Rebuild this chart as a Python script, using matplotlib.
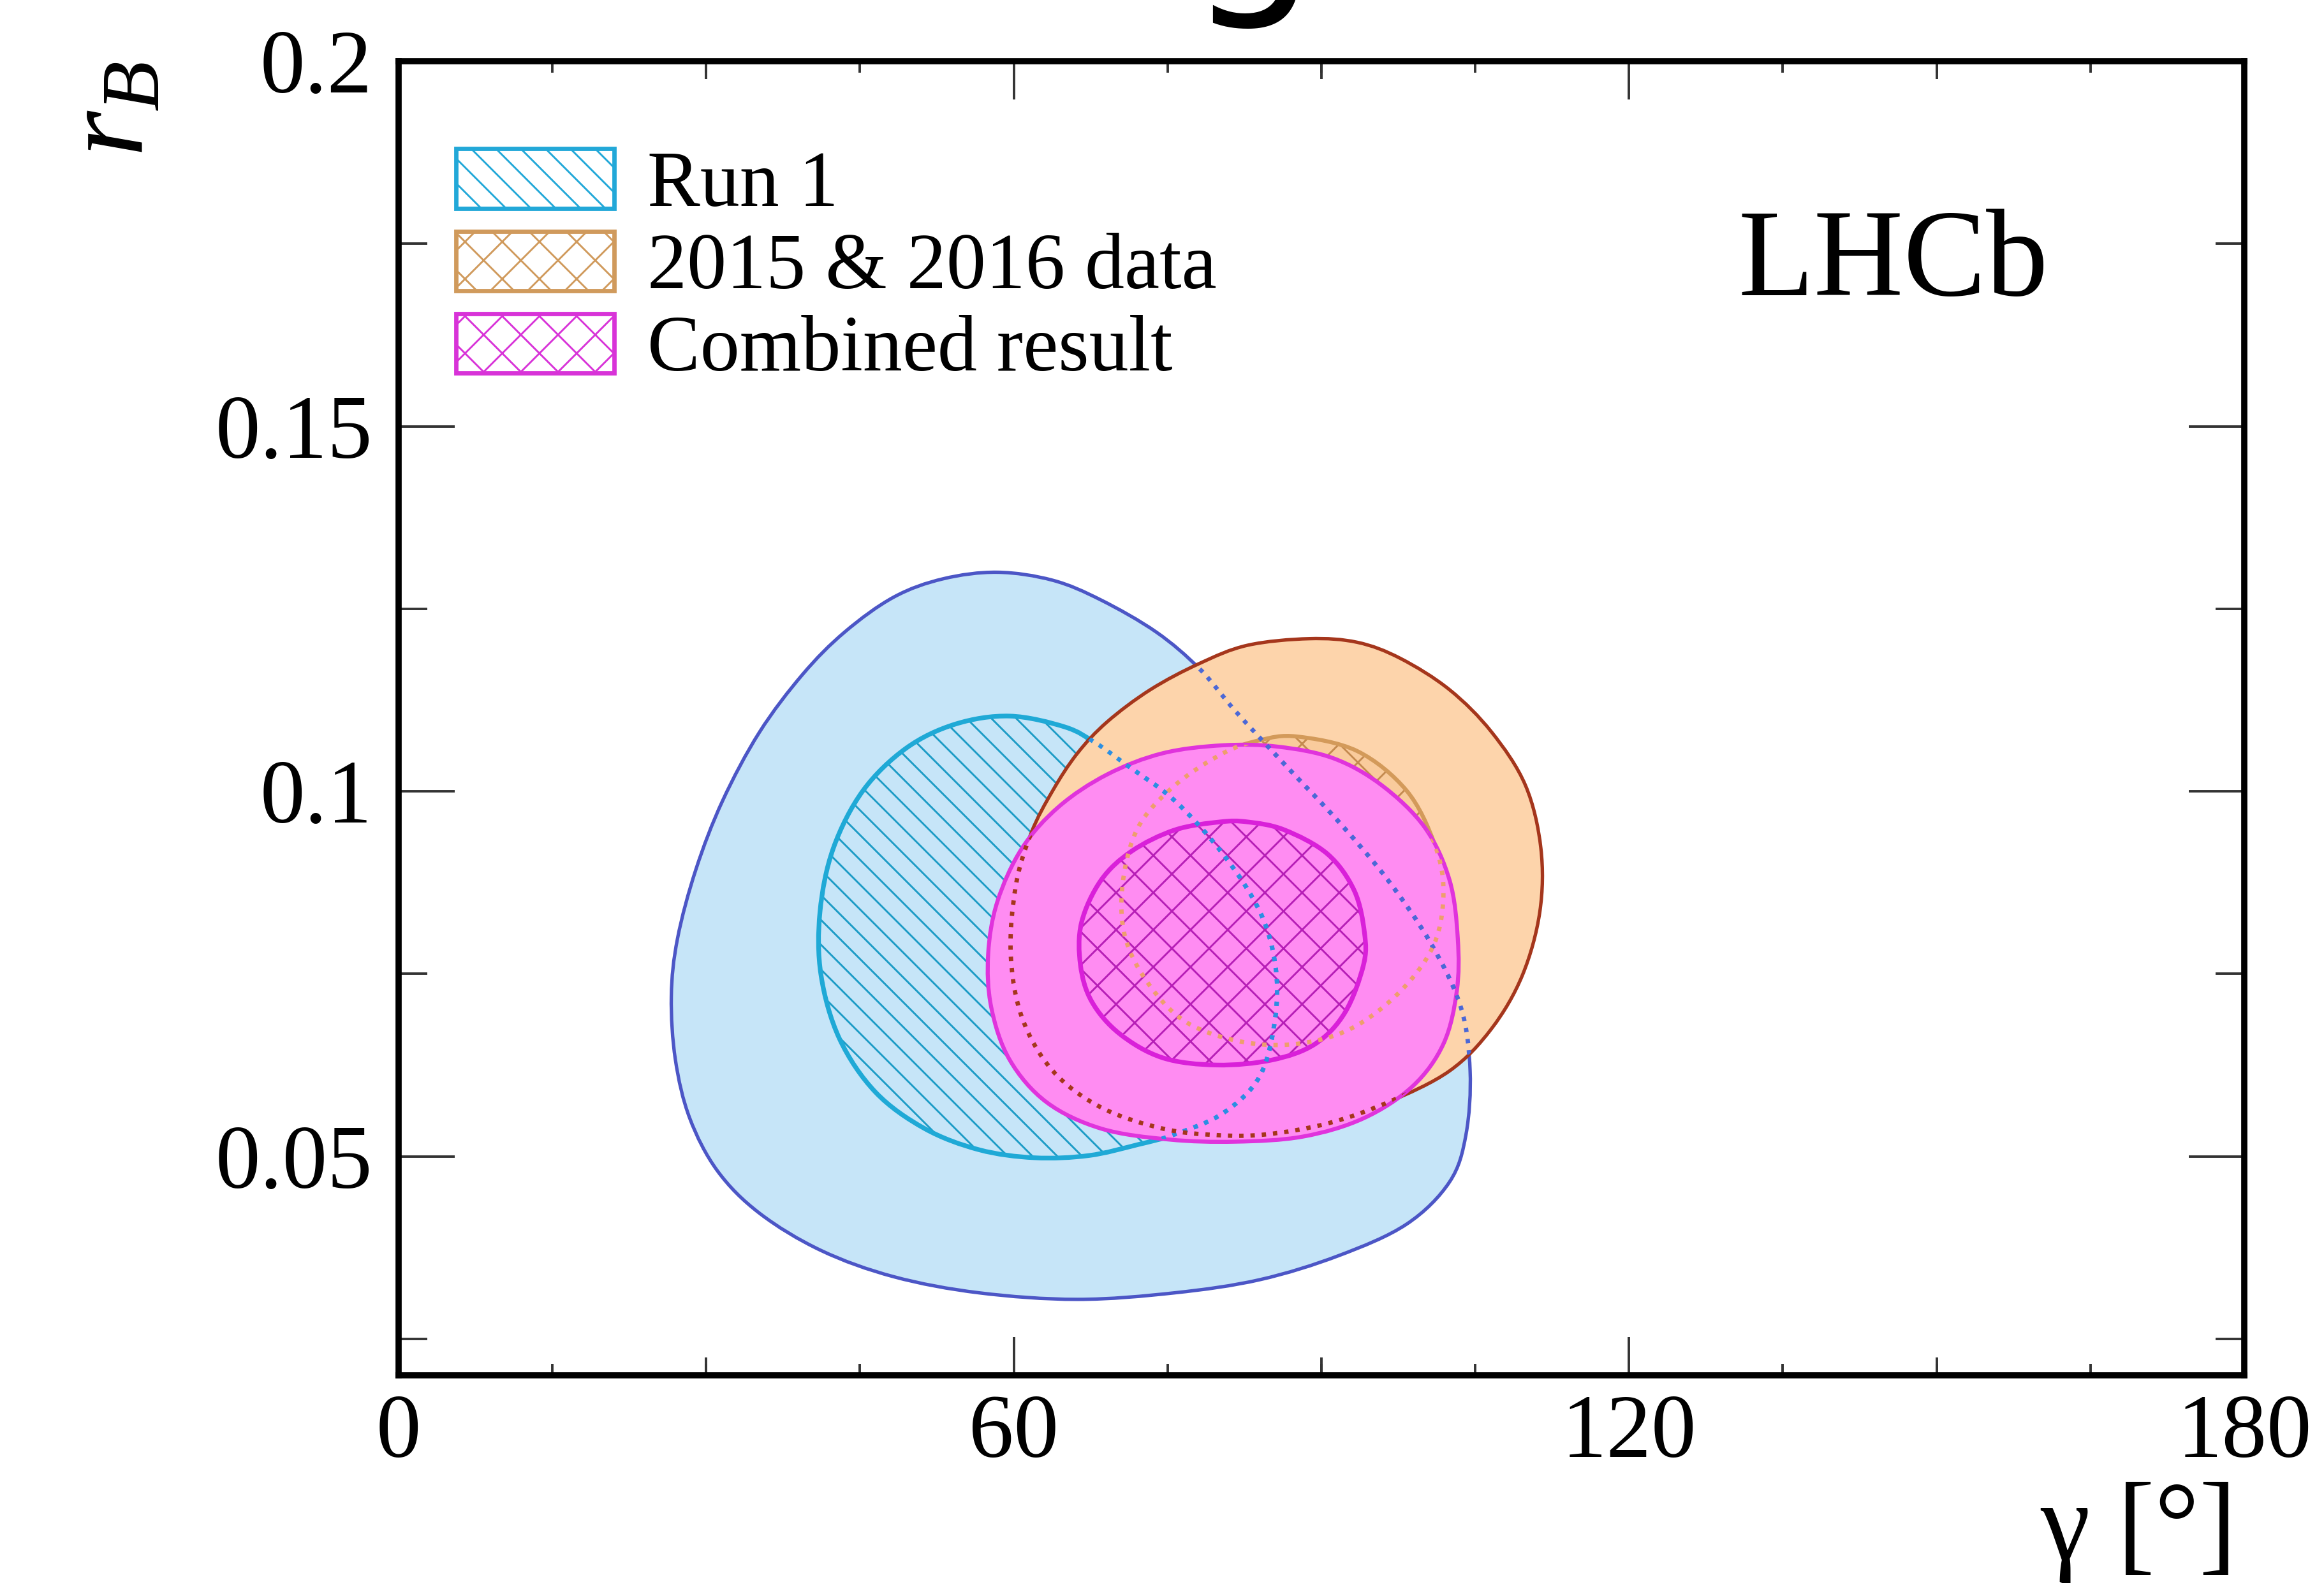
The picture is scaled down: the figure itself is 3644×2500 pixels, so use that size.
import matplotlib
matplotlib.use("Agg")
import matplotlib.pyplot as plt
import numpy as np
from matplotlib.patches import Patch, PathPatch
from matplotlib.path import Path
from matplotlib.ticker import MultipleLocator

plt.rcParams["font.family"] = ["Liberation Serif", "DejaVu Serif"]
plt.rcParams["mathtext.fontset"] = "custom"
plt.rcParams["mathtext.rm"] = "Liberation Serif"
plt.rcParams["mathtext.it"] = "Liberation Serif:italic"
plt.rcParams["hatch.linewidth"] = 0.6

# Contornos (gamma en grados, r_B)
run1_95_g = [58.4, 53.1, 48.3, 43.5, 39.4, 35.2, 31.6, 29.0, 27.2, 26.6, 27.0, 28.4,
             31.1, 35.2, 41.2, 48.3, 56.6, 66.2, 75.7, 84.0, 91.7, 98.3, 102.5, 104.1,
             104.5, 103.6, 100.7, 96.5, 91.7, 86.4, 81.6, 78.1, 73.9, 68.5, 63.8]
run1_95_r = [0.1300, 0.1291, 0.1266, 0.1218, 0.1160, 0.1081, 0.0987, 0.0893, 0.0798,
             0.0719, 0.0632, 0.0552, 0.0480, 0.0422, 0.0371, 0.0335, 0.0313, 0.0304,
             0.0313, 0.0331, 0.0364, 0.0407, 0.0465, 0.0530, 0.0617, 0.0704, 0.0791,
             0.0878, 0.0958, 0.1037, 0.1110, 0.1168, 0.1218, 0.1262, 0.1289]

run1_68_g = [59.6, 54.3, 49.5, 45.3, 42.4, 41.1, 41.2, 43.0, 46.5, 51.3, 56.6, 62.0,
             67.3, 72.1, 75.7, 80.4, 84.0, 85.5, 85.5, 84.0, 80.4, 75.7, 70.9, 68.0, 65.0]
run1_68_r = [0.1103, 0.1092, 0.1059, 0.1001, 0.0922, 0.0835, 0.0748, 0.0661, 0.0588,
             0.0538, 0.0509, 0.0498, 0.0501, 0.0516, 0.0530, 0.0559, 0.0610, 0.0690,
             0.0762, 0.0835, 0.0914, 0.0987, 0.1037, 0.1066, 0.1088]

d1516_95_g = [88.8, 82.8, 78.1, 73.3, 69.1, 66.2, 63.8, 61.7, 60.2, 59.7, 60.8, 63.8,
              68.5, 74.5, 79.8, 84.6, 90.6, 96.5, 102.5, 106.6, 109.6, 111.3, 111.4,
              109.9, 106.6, 102.5, 97.7, 93.5]
d1516_95_r = [0.1209, 0.1200, 0.1175, 0.1139, 0.1095, 0.1052, 0.1001, 0.0943, 0.0871,
              0.0777, 0.0690, 0.0617, 0.0567, 0.0538, 0.0529, 0.0530, 0.0545, 0.0574,
              0.0617, 0.0675, 0.0748, 0.0835, 0.0922, 0.1008, 0.1081, 0.1139, 0.1182,
              0.1204]

d1516_68_g = [87.6, 93.5, 98.3, 101.0, 101.9, 101.0, 97.7, 92.9, 87.6, 82.2, 76.9,
              73.3, 70.9, 70.6, 72.1, 75.7, 80.4, 84.0]
d1516_68_r = [0.1075, 0.1055, 0.1001, 0.0929, 0.0864, 0.0791, 0.0726, 0.0675, 0.0654,
              0.0657, 0.0683, 0.0733, 0.0798, 0.0871, 0.0950, 0.1008, 0.1052, 0.1070]

comb_95_g = [80.4, 74.5, 69.1, 64.4, 60.8, 58.4, 57.5, 57.8, 59.6, 63.2, 68.5, 75.1,
             81.6, 88.2, 94.1, 98.9, 101.9, 103.2, 103.3, 102.5, 100.1, 95.9, 91.2, 85.8]
comb_95_r = [0.1063, 0.1052, 0.1023, 0.0979, 0.0922, 0.0849, 0.0777, 0.0704, 0.0632,
             0.0574, 0.0538, 0.0523, 0.0520, 0.0527, 0.0552, 0.0596, 0.0654, 0.0726,
             0.0798, 0.0878, 0.0950, 0.1008, 0.1045, 0.1061]

comb_68_g = [80.1, 75.7, 71.5, 68.5, 66.6, 66.5, 67.6, 70.3, 74.5, 79.8, 85.2, 89.4,
             92.3, 94.1, 94.2, 93.2, 90.6, 86.4, 82.8]
comb_68_r = [0.0958, 0.0947, 0.0918, 0.0878, 0.0820, 0.0762, 0.0712, 0.0668, 0.0635,
             0.0625, 0.0632, 0.0654, 0.0697, 0.0762, 0.0806, 0.0864, 0.0914, 0.0947,
             0.0958]

labels = ["Run 1", "2015 & 2016 data", "Combined result"]
x_major = [0, 60, 120, 180]
x_labels = ["0", "60", "120", "180"]
x_mid = [30, 90, 150]
y_major = [0.05, 0.1, 0.15, 0.2]
y_labels = ["0.05", "0.1", "0.15", "0.2"]

AZUL_CLARO = "#c6e5f8"
MELOCOTON = "#fdd4ab"
ROSA = "#ff8cf2"


def trazo(g, r):
    # contorno cerrado suave que pasa por los puntos (Catmull-Rom en Bézier cúbicas)
    p = np.column_stack([g, r])
    n = len(p)
    verts = [p[0]]
    codes = [Path.MOVETO]
    for i in range(n):
        p0, p1, p2, p3 = p[i - 1], p[i], p[(i + 1) % n], p[(i + 2) % n]
        verts += [p1 + (p2 - p0) / 6, p2 - (p3 - p1) / 6, p2]
        codes += [Path.CURVE4] * 3
    verts.append(p[0])
    codes.append(Path.CLOSEPOLY)
    return Path(verts, codes)


def region(ax, g, r, face, edge, lw, z, hatch=None, hatch_color="none"):
    camino = trazo(g, r)
    relleno = ax.add_patch(PathPatch(camino, facecolor=face, edgecolor=hatch_color,
                                     hatch=hatch, linewidth=0, zorder=z))
    ax.add_patch(PathPatch(camino, fill=False, edgecolor=edge, lw=lw, zorder=z + 0.5))
    return relleno


def punteado(ax, g, r, color, clips):
    camino = trazo(g, r)
    for clip in clips:
        pp = ax.add_patch(PathPatch(camino, fill=False, edgecolor=color, lw=1.4,
                                    linestyle=(0, (1.0, 1.6)), zorder=20))
        pp.set_clip_path(clip)


fig = plt.figure(figsize=(3644 / 350, 2500 / 350), dpi=350)
ax = fig.add_axes([0.1715, 0.1372, 0.7942, 0.8244])

p_r95 = region(ax, run1_95_g, run1_95_r, AZUL_CLARO, "#4c56c6", 1.1, 2)
p_r68 = region(ax, run1_68_g, run1_68_r, AZUL_CLARO, "#1fa9d6", 1.5, 3,
               hatch="\\\\\\", hatch_color="#1d9cc6")
p_d95 = region(ax, d1516_95_g, d1516_95_r, MELOCOTON, "#a5361c", 1.1, 4)
p_d68 = region(ax, d1516_68_g, d1516_68_r, "#f9cb9c", "#d39a5a", 1.3, 5,
               hatch="xx", hatch_color="#c48a50")
p_c95 = region(ax, comb_95_g, comb_95_r, ROSA, "#e033dc", 1.3, 6)
p_c68 = region(ax, comb_68_g, comb_68_r, ROSA, "#d920d9", 1.5, 7,
               hatch="xx", hatch_color="#b61fb6")

# tramos tapados por otros contornos, en punteado
punteado(ax, run1_95_g, run1_95_r, "#4b68d6", [p_d95, p_c95])
punteado(ax, run1_68_g, run1_68_r, "#2b8fe2", [p_d95, p_c95])
punteado(ax, d1516_95_g, d1516_95_r, "#a5361c", [p_c95])
punteado(ax, d1516_68_g, d1516_68_r, "#ee9e6c", [p_c95])

ax.set_xlim(0, 180)
ax.set_ylim(0.02, 0.2)
ax.set_xticks(x_major, labels=x_labels)
ax.set_yticks(y_major, labels=y_labels)
ax.xaxis.set_minor_locator(MultipleLocator(15))
ax.yaxis.set_minor_locator(MultipleLocator(0.025))
ax.tick_params(which="both", direction="in", top=True, right=True,
               color="#333333", width=0.8, labelsize=29)
ax.tick_params(axis="x", which="major", length=12.3, pad=6)
ax.tick_params(axis="x", which="minor", length=3.7)
ax.tick_params(axis="y", which="major", length=18, pad=8.5)
ax.tick_params(axis="y", which="minor", length=9.3)
tick_med = 28 / 2061
ax.vlines(x_mid, 0, tick_med, transform=ax.get_xaxis_transform(),
          colors="#333333", lw=0.8, zorder=30)
ax.vlines(x_mid, 1 - tick_med, 1, transform=ax.get_xaxis_transform(),
          colors="#333333", lw=0.8, zorder=30)
for s in ax.spines.values():
    s.set_linewidth(2.0)
    s.set_zorder(40)

ax.set_xlabel("γ [°]", fontsize=36, loc="right")
ax.xaxis.set_label_coords(0.996, -0.081)
ax.set_ylabel("$r_B$", fontsize=38, loc="top")
ax.yaxis.set_label_coords(-0.125, 1.0)

ax.text(0.7256, 0.822, "LHCb", transform=ax.transAxes, fontsize=40,
        ha="left", va="baseline")

handles = [
    Patch(facecolor="white", edgecolor="#22a8d8", hatch="\\\\\\", lw=1.4),
    Patch(facecolor="white", edgecolor="#d09a5c", hatch="xx", lw=1.4),
    Patch(facecolor="white", edgecolor="#d833d8", hatch="xx", lw=1.4),
]
ax.legend(handles, labels, loc="upper left", bbox_to_anchor=(0.031, 0.9333),
          frameon=False, fontsize=25.5, handlelength=2.0, handleheight=0.78,
          handletextpad=0.42, labelspacing=0.1, borderpad=0, borderaxespad=0)

# cola de la "g" del título, que queda fuera del lienzo
fig.text(0.539, 1.0088, "g", fontsize=66, family="DejaVu Sans",
         ha="center", va="baseline")

fig.savefig("out.png", dpi=350)
plt.close(fig)
